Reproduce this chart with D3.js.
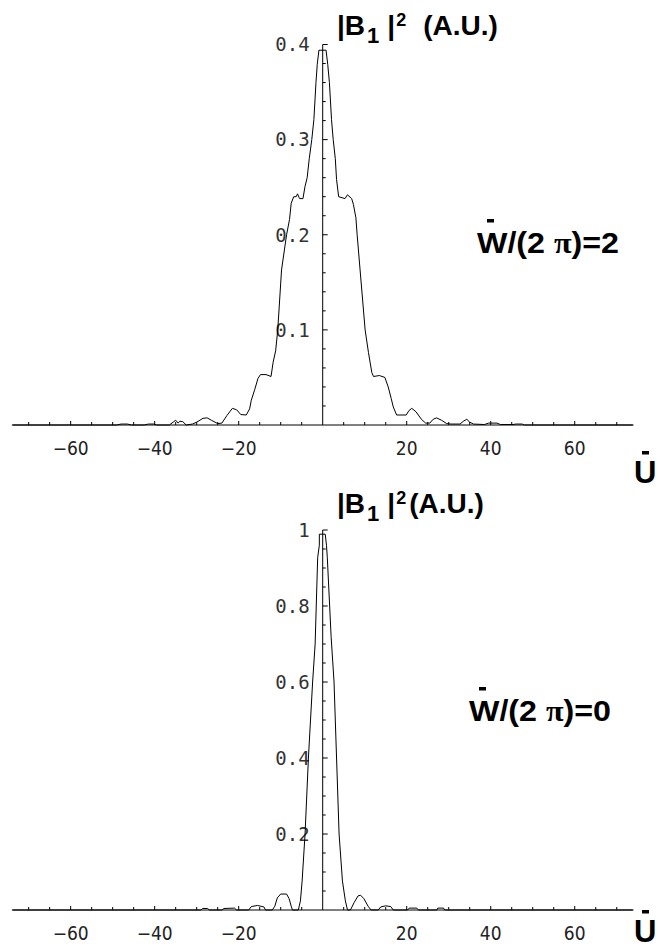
<!DOCTYPE html>
<html>
<head>
<meta charset="utf-8">
<script src="https://cdn.jsdelivr.net/npm/d3@7"></script>
<style>
  body { margin: 0; background: #fff; }
  svg { display: block; }
  .xlab { font-family: "DejaVu Sans Condensed", "DejaVu Sans", sans-serif; font-stretch: condensed; font-size: 19px; fill: #222; }
  .ylab { font-family: "DejaVu Sans Mono", monospace; font-size: 19px; fill: #333; }
  .bold { font-family: "Liberation Sans", Arial, sans-serif; font-weight: bold; fill: #000; }
</style>
</head>
<body>
<script>
// x axis ticks (same for both panels)
const xMajor = [-60, -40, -20, 20, 40, 60];
const xMajorLabels = ["\u221260", "\u221240", "\u221220", "20", "40", "60"];

// top panel, W/(2 pi) = 2
const topYTicks = [0.1, 0.2, 0.3, 0.4];
const topYLabels = ["0.1", "0.2", "0.3", "0.4"];
const topU = [-74, -49, -48, -46.5, -45.5, -42.5, -41.5, -40.2, -39.5, -36.5, -35.6, -35, -34.4, -34, -33.3, -32.5,
  -31, -30, -28.5, -27.5, -26.5, -25, -24, -22.8, -21.5, -20.5, -19.5, -18.2, -17.4, -17, -16.2, -15.4, -14.8,
  -13.5, -12.3, -11.8, -11.2, -10.7, -9.8, -8.6, -7.9, -7.5, -6.9, -6.3, -6, -5.5, -4.7, -4.2, -3.7, -3.2, -2.6,
  -2.1, -1.6, -1.3, -0.9, 0.8, 1.2, 1.6, 2.1, 2.5, 3.0, 3.3, 3.8, 5.3, 5.9, 6.9, 7.3, 7.9, 8.2, 8.9, 10.1, 10.9,
  11.7, 12.1, 13.5, 14.8, 15.6, 16.3, 16.8, 17.6, 19.9, 20.5, 21.2, 22.2, 23.5, 24.5, 25.5, 26.3, 27.1, 28.3,
  29.5, 30.5, 32.7, 33.5, 34.3, 35, 35.9, 38.5, 39.5, 41.5, 42.3, 45.3, 46, 47.5, 48, 74];
const topB = [0, 0, 0.001, 0.001, 0, 0, 0.001, 0.001, 0, 0, 0.003, 0.005, 0.002, 0.004, 0.0035, 0,
  0.001, 0.003, 0.007, 0.0075, 0.005, 0.0015, 0.002, 0.01, 0.0175, 0.016, 0.011, 0.0105, 0.017, 0.026, 0.037, 0.049, 0.053,
  0.053, 0.051, 0.066, 0.078, 0.1, 0.163, 0.2, 0.216, 0.233, 0.24, 0.24, 0.243, 0.238, 0.238, 0.251, 0.26, 0.28, 0.3,
  0.321, 0.36, 0.379, 0.394, 0.394, 0.379, 0.36, 0.321, 0.3, 0.28, 0.258, 0.24, 0.238, 0.242, 0.238, 0.232, 0.218, 0.2, 0.163, 0.1, 0.076,
  0.055, 0.051, 0.052, 0.05, 0.04, 0.028, 0.019, 0.0105, 0.0105, 0.015, 0.0175, 0.014, 0.006, 0.002, 0.002, 0.006, 0.0075, 0.005,
  0.0015, 0.001, 0.001, 0.004, 0.006, 0.003, 0.001, 0.0005, 0.002, 0.002, 0.0005, 0.0005, 0.001, 0.001, 0, 0];

// bottom panel, W/(2 pi) = 0
const botYTicks = [0.2, 0.4, 0.6, 0.8, 1];
const botYLabels = ["0.2", "0.4", "0.6", "0.8", "1"];
const botU = [-74, -29, -28.6, -27.4, -27, -24, -23.5, -21, -20.5, -17.6, -17, -15.5, -14, -13.6, -12, -11.4, -10.8,
  -10, -8.6, -8, -7.5, -7.2, -5.8, -5.3, -4.9, -4.2, -3.4, -2.4, -1.8, -1.2, -0.8, -0.8, 0.6, 0.9, 1.1, 2.0, 2.7,
  3.3, 3.9, 4.7, 5.4, 5.9, 6.6, 7.5, 8.4, 9.0, 9.8, 10.8, 11.5, 13.2, 13.8, 15, 16.2, 16.8, 20.2, 20.6, 22.4, 22.8,
  27.2, 27.4, 28.8, 29, 74];
const botB = [0, 0, 0.004, 0.004, 0, 0, 0.004, 0.005, 0, 0, 0.009, 0.012, 0.008, 0, 0, 0.01, 0.032,
  0.042, 0.042, 0.03, 0.01, 0, 0, 0.024, 0.076, 0.2, 0.4, 0.6, 0.7, 0.927, 0.96, 0.989, 0.989, 0.96, 0.927, 0.72, 0.6,
  0.4, 0.2, 0.076, 0.024, 0, 0, 0.02, 0.037, 0.039, 0.03, 0.01, 0, 0, 0.008, 0.011, 0.009, 0, 0, 0.005, 0.005, 0,
  0, 0.005, 0.005, 0, 0];

const W = 671;
const H = 949;

const svg = d3.select("body").append("svg").attr("width", W).attr("height", H);

// shared horizontal scale
const x = d3.scaleLinear().domain([-73.8, 73.8]).range([12.7, 632.7]);

function drawPanel(p) {
  const y = d3.scaleLinear().domain([0, p.yMax]).range([p.y0, p.y1]);
  const g = svg.append("g");

  // x axis line + ticks (ticks point up)
  g.append("line")
    .attr("x1", x.range()[0]).attr("x2", x.range()[1])
    .attr("y1", y(0)).attr("y2", y(0))
    .attr("stroke", "#000").attr("stroke-width", 1);
  const xMinor = d3.range(-70, 71, 5).filter((d) => d !== 0);
  g.selectAll(".xt").data(xMinor).enter().append("line")
    .attr("x1", (d) => x(d)).attr("x2", (d) => x(d))
    .attr("y1", y(0)).attr("y2", (d) => y(0) - (d % 20 === 0 ? 4 : 3))
    .attr("stroke", "#000").attr("stroke-width", 1);
  g.selectAll(".xl").data(xMajor).enter().append("text")
    .attr("class", "xlab")
    .attr("x", (d) => x(d)).attr("y", y(0) + 30)
    .attr("text-anchor", "middle")
    .text((d, i) => xMajorLabels[i]);

  // y axis line + ticks (ticks point right)
  g.append("line")
    .attr("x1", x(0)).attr("x2", x(0))
    .attr("y1", y(0)).attr("y2", y(p.yMax))
    .attr("stroke", "#000").attr("stroke-width", 1);
  g.selectAll(".ym").data(p.yMinor).enter().append("line")
    .attr("x1", x(0)).attr("x2", x(0) + 3)
    .attr("y1", (d) => y(d)).attr("y2", (d) => y(d))
    .attr("stroke", "#000").attr("stroke-width", 1);
  g.selectAll(".yt").data(p.yTicks).enter().append("line")
    .attr("x1", x(0)).attr("x2", x(0) + 5)
    .attr("y1", (d) => y(d)).attr("y2", (d) => y(d))
    .attr("stroke", "#000").attr("stroke-width", 1);
  g.selectAll(".yl").data(p.yTicks).enter().append("text")
    .attr("class", "ylab")
    .attr("x", x(0) - 13).attr("y", (d) => y(d))
    .attr("dy", "0.36em")
    .attr("text-anchor", "end")
    .text((d, i) => p.yLabels[i]);

  // curve
  const pts = p.u.map((u, i) => [u, p.b[i]]);
  g.append("path")
    .datum(pts)
    .attr("fill", "none")
    .attr("stroke", "#000")
    .attr("stroke-width", 1)
    .attr("d", d3.line().x((d) => x(d[0])).y((d) => y(d[1])));

  // title |B1|^2 (A.U.)
  const t = g.append("text").attr("class", "bold")
    .attr("x", p.titleX).attr("y", p.titleY).attr("font-size", 28);
  t.append("tspan").text("|B");
  t.append("tspan").attr("font-size", 22).attr("dx", 2).attr("dy", 8).text("1");
  t.append("tspan").attr("font-size", 28).attr("dx", 8).attr("dy", -8).text("|");
  t.append("tspan").attr("font-size", 18).attr("dx", 1).attr("dy", -9).text("2");
  t.append("tspan").attr("font-size", 28).attr("dx", p.titleGap).attr("dy", 9).text("(A.U.)");

  // annotation W/(2 pi)=n with bar over W
  const a = g.append("text").attr("class", "bold")
    .attr("x", p.annX).attr("y", p.annY).attr("font-size", 29)
    .attr("textLength", 142).attr("lengthAdjust", "spacingAndGlyphs");
  a.append("tspan").text("W/(2 ");
  a.append("tspan").attr("font-family", "Liberation Serif, serif").text("\u03c0");
  a.append("tspan").text(")=" + p.w);
  g.append("rect")
    .attr("x", p.annX + 10).attr("y", p.annY - 34)
    .attr("width", 7).attr("height", 3.5).attr("fill", "#000");

  // axis label U with bar
  g.append("text").attr("class", "bold")
    .attr("x", 634).attr("y", p.uY).attr("font-size", 31)
    .text("U");
  g.append("rect")
    .attr("x", 642).attr("y", p.uY - 32)
    .attr("width", 7).attr("height", 3.5).attr("fill", "#000");
}

drawPanel({
  yMax: 0.4, y0: 425, y1: 44.5,
  yTicks: topYTicks, yLabels: topYLabels,
  yMinor: d3.range(1, 20).map((k) => k * 0.02).filter((d) => Math.abs(d * 10 - Math.round(d * 10)) > 1e-6),
  u: topU, b: topB,
  titleX: 337, titleY: 35, titleGap: 17,
  annX: 477, annY: 253, w: "2",
  uY: 483
});

drawPanel({
  yMax: 1, y0: 910, y1: 530,
  yTicks: botYTicks, yLabels: botYLabels,
  yMinor: d3.range(1, 20).map((k) => k * 0.05).filter((d) => Math.abs(d * 5 - Math.round(d * 5)) > 1e-6),
  u: botU, b: botB,
  titleX: 337, titleY: 513, titleGap: 3,
  annX: 469, annY: 721, w: "0",
  uY: 942
});
</script>
</body>
</html>
